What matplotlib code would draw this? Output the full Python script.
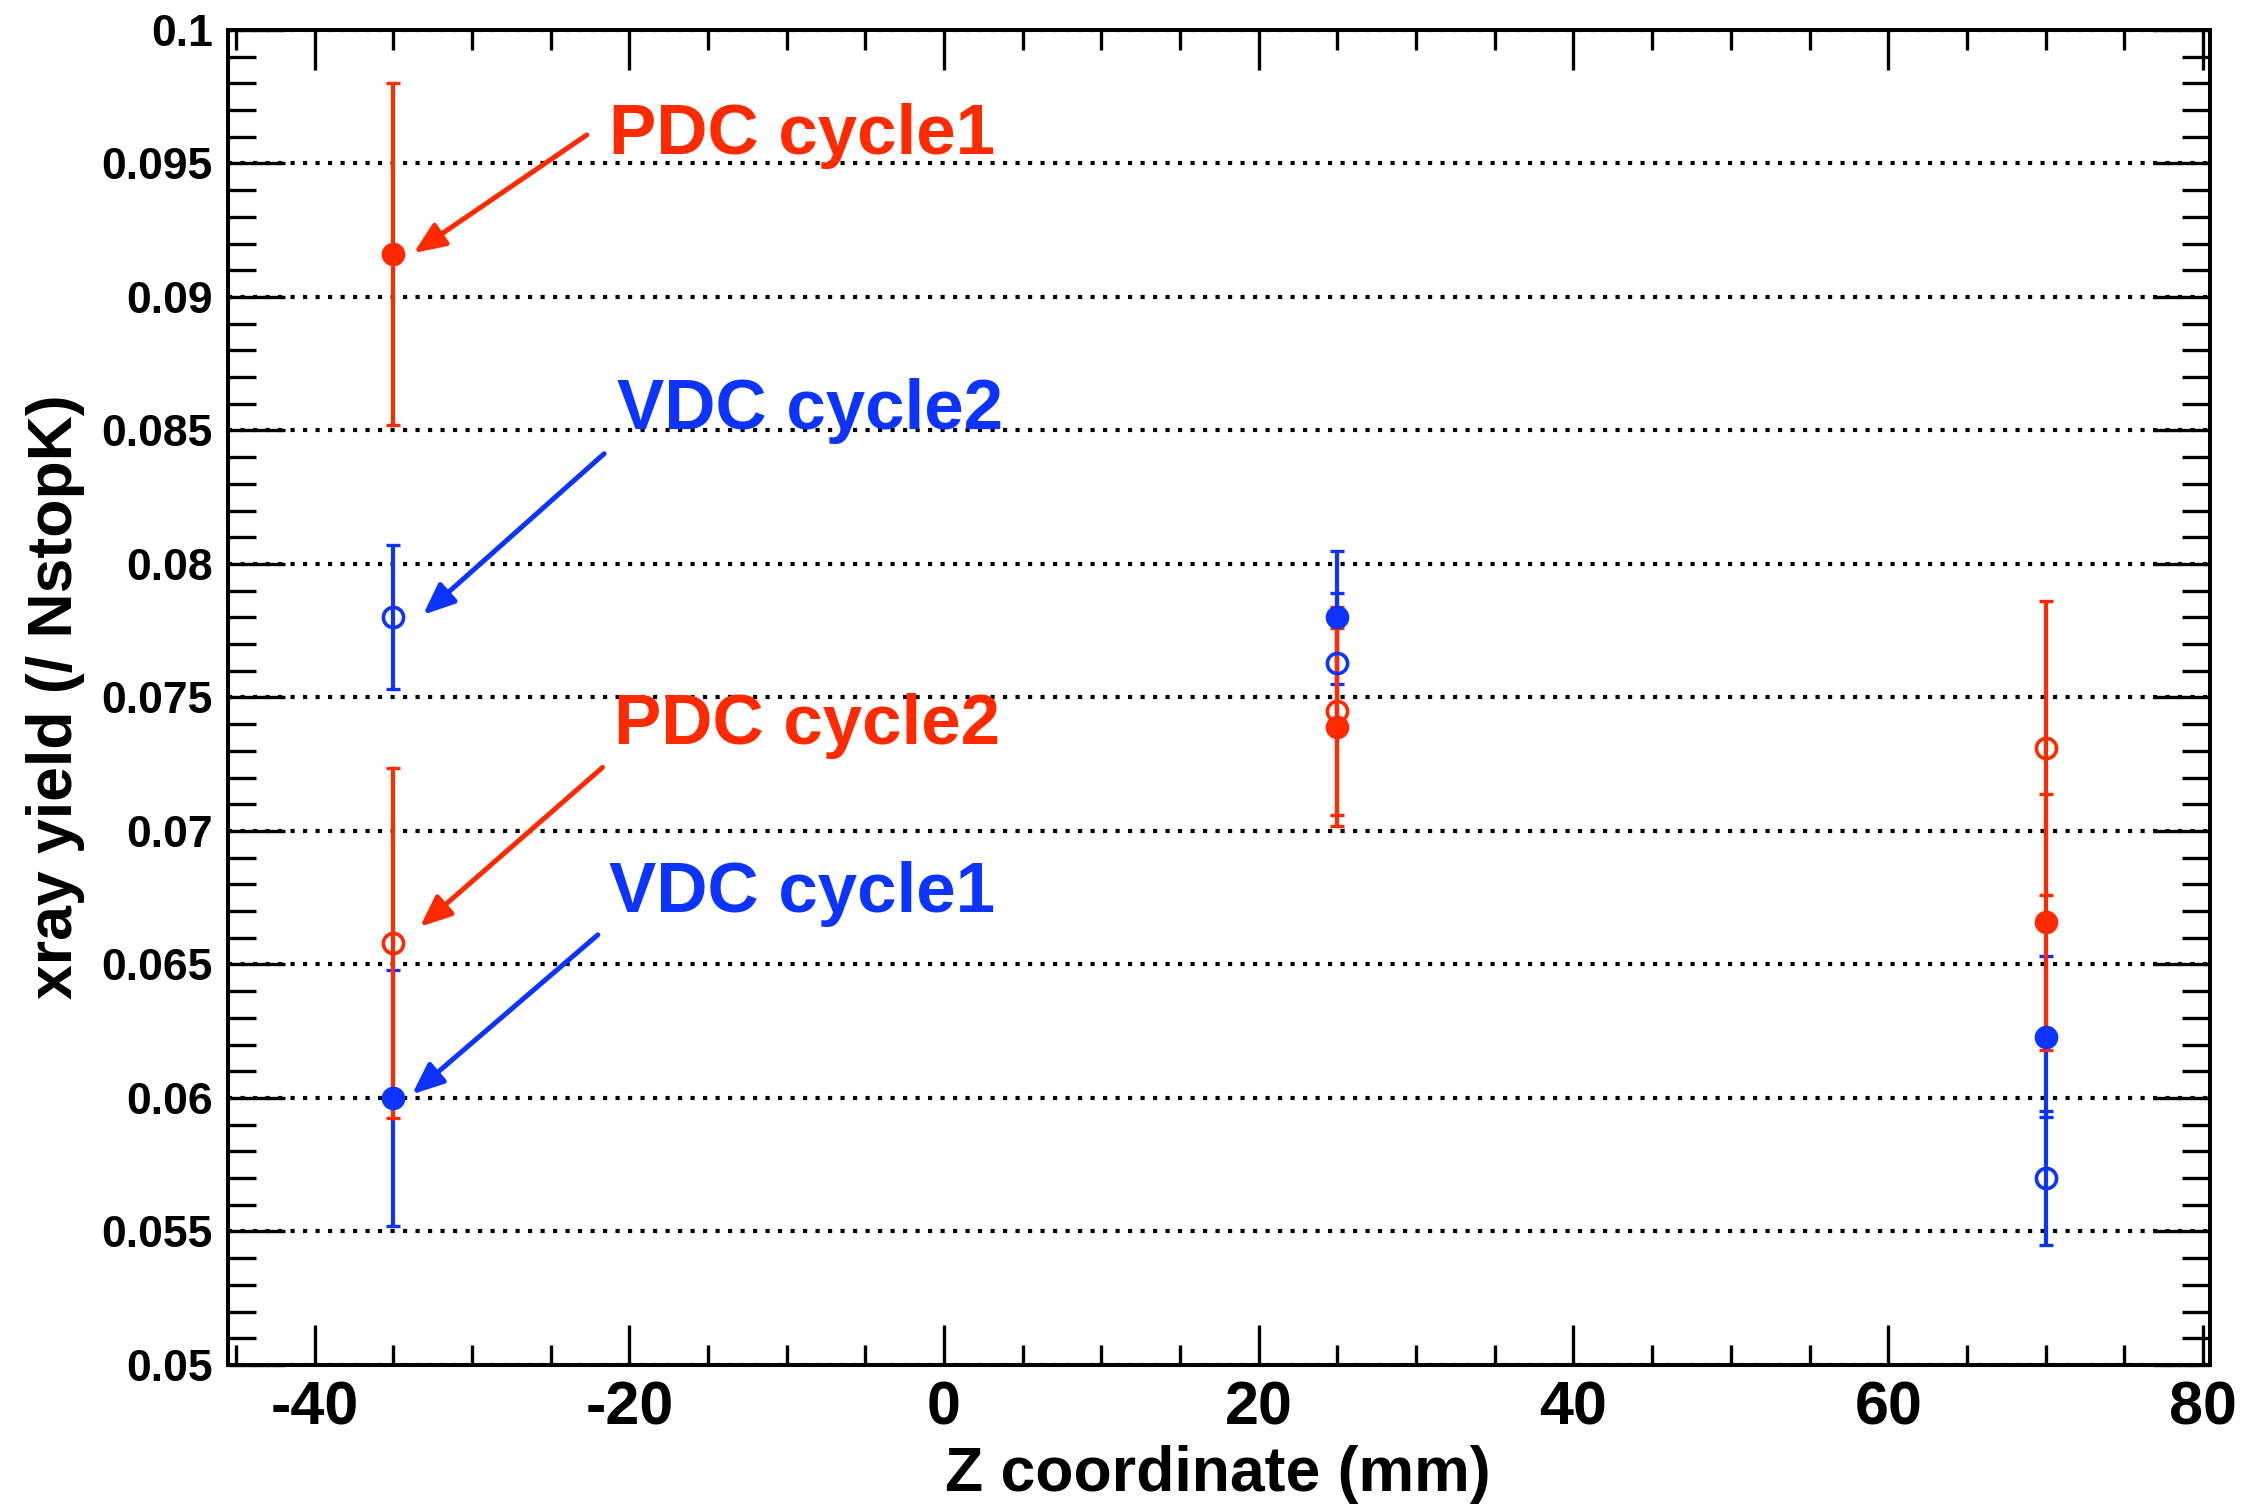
import numpy as np
import matplotlib
matplotlib.use("Agg")
import matplotlib.pyplot as plt
from matplotlib.ticker import MultipleLocator, FormatStrFormatter

plt.rcParams['font.family'] = ['Liberation Sans', 'DejaVu Sans']
plt.rcParams['font.weight'] = 'bold'
plt.rcParams['axes.unicode_minus'] = False

# z positions of the three measurements [mm]
z_pos = [-35, 25, 70]

# xray yield per stopped kaon, with errors
pdc_cycle1 = [0.0916, 0.0739, 0.0666]
pdc_cycle1_err = [0.0064, 0.0037, 0.0048]
pdc_cycle2 = [0.0658, 0.0745, 0.0731]
pdc_cycle2_err = [0.00655, 0.0039, 0.0055]
vdc_cycle1 = [0.0600, 0.0780, 0.0623]
vdc_cycle1_err = [0.0048, 0.0025, 0.0030]
vdc_cycle2 = [0.0780, 0.0763, 0.0570]
vdc_cycle2_err = [0.0027, 0.0026, 0.0025]

RED = '#ff2a00'
BLUE = '#0d33ff'


def draw_series(ax, y, yerr, color, filled):
    if filled:
        kw = dict(marker='o', ms=15.5, mfc=color, mec=color, mew=1.5)
    else:
        kw = dict(marker='o', ms=14.5, mfc='none', mec=color, mew=2.6)
    ax.errorbar(z_pos, y, yerr=yerr, fmt='none', ecolor=color,
                elinewidth=3.0, capsize=4.7, capthick=2.4, zorder=3)
    ax.plot(z_pos, y, ls='none', color=color, zorder=4, **kw)


def main():
    fig = plt.figure(figsize=(22.41, 15.05), dpi=100)
    ax = fig.add_axes([228 / 2241, 1 - 1365 / 1505,
                       (2210 - 228) / 2241, (1365 - 30) / 1505])

    draw_series(ax, vdc_cycle2, vdc_cycle2_err, BLUE, False)
    draw_series(ax, vdc_cycle1, vdc_cycle1_err, BLUE, True)
    draw_series(ax, pdc_cycle2, pdc_cycle2_err, RED, False)
    draw_series(ax, pdc_cycle1, pdc_cycle1_err, RED, True)

    ax.set_xlim(-45.5, 80.45)
    ax.set_ylim(0.05, 0.1)

    ax.xaxis.set_major_locator(MultipleLocator(20))
    ax.xaxis.set_minor_locator(MultipleLocator(5))
    ax.yaxis.set_major_locator(MultipleLocator(0.005))
    ax.yaxis.set_minor_locator(MultipleLocator(0.001))
    ax.yaxis.set_major_formatter(FormatStrFormatter('%g'))

    ax.tick_params(axis='both', which='both', direction='in',
                   top=True, right=True, width=2.4, colors='black')
    ax.tick_params(axis='x', which='major', length=28.8, labelsize=44, pad=11)
    ax.tick_params(axis='x', which='minor', length=14.4)
    ax.tick_params(axis='y', which='major', length=41, labelsize=32, pad=11)
    ax.tick_params(axis='y', which='minor', length=20)
    for lab in ax.get_xticklabels() + ax.get_yticklabels():
        lab.set_fontweight('bold')
    for sp in ax.spines.values():
        sp.set_linewidth(2.9)

    ax.yaxis.grid(True, which='major', color='black', lw=3.0,
                  ls=(0, (1, 2)))
    ax.set_axisbelow(True)

    fig.text(1218 / 2241, 1 - 1491 / 1505, 'Z coordinate (mm)',
             fontsize=45, fontweight='bold', ha='center', va='baseline')
    fig.text(56 / 2241, 1 - 697 / 1505, 'xray yield (/ NstopK)',
             fontsize=45, fontweight='bold', rotation=90,
             ha='center', va='center')

    # labels with arrows: (text, colour, text pos, arrow tail, arrow tip)
    notes = [
        ('PDC cycle1', RED, (-21.3, 0.09536), (-22.7, 0.09607), (-33.7, 0.09165)),
        ('VDC cycle2', BLUE, (-20.8, 0.08504), (-21.6, 0.08413), (-33.1, 0.0781)),
        ('PDC cycle2', RED, (-21.0, 0.07325), (-21.7, 0.07238), (-33.3, 0.06641)),
        ('VDC cycle1', BLUE, (-21.3, 0.06695), (-22.0, 0.06611), (-33.8, 0.06014)),
    ]
    for text, color, tpos, tail, tip in notes:
        ax.text(tpos[0], tpos[1], text, color=color, fontsize=51,
                fontweight='bold', ha='left', va='baseline', zorder=6)
        ax.annotate('', xy=tip, xytext=tail,
                    arrowprops=dict(arrowstyle='-|>,head_length=0.95,head_width=0.4',
                                    color=color, lw=3.6, mutation_scale=20,
                                    shrinkA=0, shrinkB=0),
                    zorder=6)

    fig.savefig('out.png', dpi=100)


if __name__ == '__main__':
    main()
